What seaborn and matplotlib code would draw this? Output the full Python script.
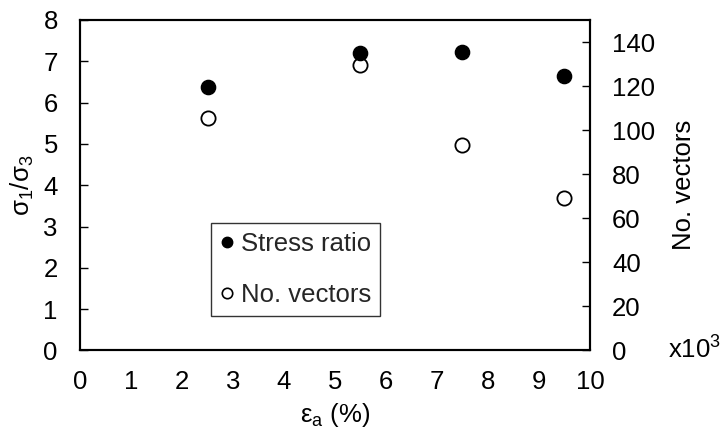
import matplotlib
matplotlib.use("Agg")
import matplotlib.pyplot as plt
from matplotlib.lines import Line2D
import seaborn as sns
import pandas as pd

# Axial strain (%) at each measurement
strain = [2.5, 5.5, 7.5, 9.5]
# Principal stress ratio sigma1/sigma3
stress_ratio = [6.37, 7.20, 7.23, 6.65]
# Number of displacement vectors (x10^3)
n_vectors = [105.6, 129.5, 93.2, 69.0]

x_ticks = list(range(0, 11))
left_ticks = list(range(0, 9))
right_ticks = list(range(0, 141, 20))

sns.set_theme(style="white")
plt.rcParams["font.family"] = ["Liberation Sans", "DejaVu Sans"]
plt.rcParams["mathtext.fontset"] = "custom"
plt.rcParams["mathtext.rm"] = "Liberation Sans"
plt.rcParams["mathtext.it"] = "Liberation Sans"

df = pd.DataFrame({"strain": strain, "ratio": stress_ratio, "vectors": n_vectors})

fig = plt.figure(figsize=(7.23, 4.44), dpi=100)
ax = fig.add_axes([0.1107, 0.2106, 0.7053, 0.7444])
ax2 = ax.twinx()

fs = 18.5

sns.scatterplot(data=df, x="strain", y="vectors", ax=ax2, s=105,
                color="white", edgecolor="black", linewidth=1.3, zorder=3)
sns.scatterplot(data=df, x="strain", y="ratio", ax=ax, s=105,
                color="black", edgecolor="black", linewidth=1.0, zorder=4)

# Put the stress-ratio axes above the twin so filled dots overlay hollow ones
ax.set_zorder(ax2.get_zorder() + 1)
ax.patch.set_visible(False)

ax.set_xlim(0, 10)
ax.set_ylim(0, 8)
ax2.set_ylim(0, 150)
ax.set_xticks(x_ticks)
ax.set_yticks(left_ticks)
ax2.set_yticks(right_ticks)

for a in (ax, ax2):
    for sp in a.spines.values():
        sp.set_color("black")
        sp.set_linewidth(1.5)
    a.tick_params(direction="in", length=6, width=1, color="black",
                  labelsize=fs, labelcolor="black", pad=16)
    a.grid(False)

ax.tick_params(axis="x", pad=14)

ax.set_xlabel(r"$\mathregular{ε_a}$ (%)", fontsize=fs, color="black", labelpad=5)
ax.set_ylabel(r"$\mathregular{σ_1/σ_3}$", fontsize=fs, color="black", labelpad=5)
ax2.set_ylabel("No. vectors", fontsize=fs, color="black", labelpad=12)

ax2.annotate(r"x10$\mathregular{^3}$", xy=(1, 0), xycoords="axes fraction",
             xytext=(56, 0), textcoords="offset points",
             ha="left", va="center", fontsize=fs, color="black")

handles = [
    Line2D([], [], linestyle="none", marker="o", markersize=7.5,
           markerfacecolor="black", markeredgecolor="black", label="Stress ratio"),
    Line2D([], [], linestyle="none", marker="o", markersize=7.5,
           markerfacecolor="white", markeredgecolor="black", markeredgewidth=1.2,
           label="No. vectors"),
]
leg = ax.legend(handles=handles, loc="upper left", bbox_to_anchor=(0.257, 0.385),
                frameon=True, fancybox=False, fontsize=fs, handlelength=0.5,
                handletextpad=0.3, labelspacing=1.05, borderpad=0.35,
                borderaxespad=0)
leg.get_frame().set_edgecolor("black")
leg.get_frame().set_linewidth(1.0)

fig.savefig("out.png", dpi=100)
